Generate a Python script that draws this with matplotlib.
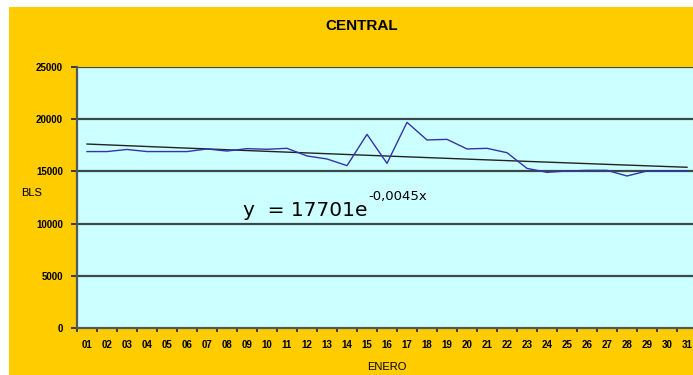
import matplotlib
matplotlib.use("Agg")
import matplotlib.pyplot as plt
from matplotlib.patches import Rectangle
import numpy as np

plt.rcParams['font.family'] = ['Liberation Sans', 'DejaVu Sans']

# Daily values for January (BLS)
days = ["01", "02", "03", "04", "05", "06", "07", "08", "09", "10", "11",
        "12", "13", "14", "15", "16", "17", "18", "19", "20", "21", "22",
        "23", "24", "25", "26", "27", "28", "29", "30", "31"]
bls = [16900, 16900, 17100, 16900, 16900, 16900, 17150, 16950, 17180, 17120,
       17210, 16480, 16190, 15550, 18550, 15770, 19700, 18010, 18070, 17150,
       17210, 16790, 15290, 14910, 15040, 15100, 15100, 14560, 15040, 15040,
       15040]

# Exponential trendline coefficients
trend_a = 17701
trend_b = -0.0045

yticks = [0, 5000, 10000, 15000, 20000, 25000]

W, H = 693, 375
fig = plt.figure(figsize=(W / 100, H / 100), dpi=100, facecolor='white')

# Yellow chart area
fig.add_artist(Rectangle((9 / W, 0), 1 - 9 / W, (H - 7) / H,
                         transform=fig.transFigure, facecolor='#FFCC00',
                         edgecolor='none', zorder=-10))

ax = fig.add_axes([77 / W, (H - 328) / H, 620 / W, 261 / H])
ax.set_facecolor('#CCFFFF')

x = np.arange(1, len(days) + 1)
ax.plot(x, bls, color='#3333AA', lw=1.0, zorder=3)

trend = trend_a * np.exp(trend_b * x)
ax.plot(x, trend, color='#222222', lw=1.0, zorder=2)

ax.set_xlim(0.5, len(days) + 0.5)
ax.set_ylim(0, 25000)

ax.set_yticks(yticks)
ax.set_yticklabels([str(v) for v in yticks], fontsize=7, fontweight='bold')
for v in yticks[1:]:
    ax.axhline(v, color='#3a4a4a', lw=1.6, zorder=1)

ax.set_xticks(x)
ax.set_xticklabels(days, fontsize=7, fontweight='bold')
ax.set_xticks(np.arange(0.5, len(days) + 1, 1), minor=True)
ax.tick_params(axis='x', which='major', length=0, pad=9)
ax.tick_params(axis='x', which='minor', length=3, width=1.2, color='#222222')
ax.tick_params(axis='y', length=4, width=1.2, color='#222222', pad=6)

for side in ['top', 'right']:
    ax.spines[side].set_visible(False)
for side in ['left', 'bottom']:
    ax.spines[side].set_color('#505a5a')
    ax.spines[side].set_linewidth(1.6)

fig.text(362 / W, 1 - 26 / H, "CENTRAL", ha='center', va='center',
         fontsize=11, fontweight='bold')
fig.text(32 / W, 1 - 193 / H, "BLS", ha='center', va='center', fontsize=8)
fig.text(387 / W, 1 - 367 / H, "ENERO", ha='center', va='center', fontsize=8)

# Trendline equation: base text, then the exponent placed right after it
base = fig.text(243 / W, 1 - 216 / H, "y  = 17701e", ha='left',
                va='baseline', fontsize=14.5, family='DejaVu Sans', zorder=4)
renderer = fig.canvas.get_renderer()
bb = base.get_window_extent(renderer=renderer)
fig.text((bb.x1 + 1) / W, 1 - 200 / H, "-0,0045x", ha='left',
         va='baseline', fontsize=9.5, family='DejaVu Sans', zorder=4)

fig.savefig("out.png", dpi=100, facecolor=fig.get_facecolor())
